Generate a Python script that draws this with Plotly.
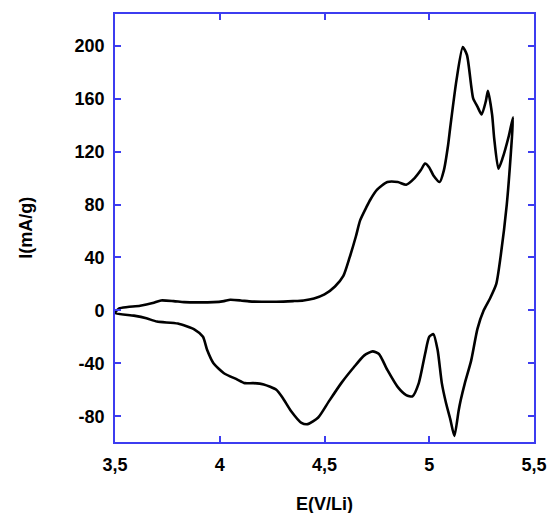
import plotly.graph_objects as go

# Anodic (forward) scan
x_fwd = [3.50, 3.52, 3.56, 3.62, 3.68, 3.72, 3.78, 3.83, 3.90, 3.97, 4.02, 4.05, 4.10, 4.14,
         4.20, 4.27, 4.35, 4.40, 4.45, 4.50, 4.55, 4.59, 4.62, 4.65, 4.67, 4.70, 4.72, 4.75,
         4.80, 4.85, 4.89, 4.93, 4.96, 4.98, 5.00, 5.02, 5.05, 5.07, 5.09, 5.10, 5.13, 5.16,
         5.18, 5.20, 5.21, 5.23, 5.25, 5.27, 5.28, 5.30, 5.31, 5.33, 5.35, 5.38, 5.40]
y_fwd = [-2, 1.5, 2.5, 3.5, 5.5, 7.5, 7, 6.2, 6, 6.2, 7, 8, 7.5, 6.8,
         6.5, 6.5, 7, 7.5, 9, 12, 18, 26, 40, 56, 68, 78, 84, 91,
         97, 97, 95, 100, 106, 111, 108, 102, 97, 106, 125, 138, 174, 199,
         193, 170, 160, 154, 148, 158, 166, 148, 130, 107, 115, 132, 146]

# Cathodic (reverse) scan
x_rev = [5.40, 5.39, 5.37, 5.34, 5.32, 5.29, 5.26, 5.23, 5.20, 5.17, 5.15, 5.14, 5.12, 5.10,
         5.08, 5.06, 5.04, 5.02, 5.00, 4.98, 4.95, 4.92, 4.89, 4.85, 4.80, 4.76, 4.73, 4.69,
         4.64, 4.58, 4.52, 4.47, 4.42, 4.39, 4.34, 4.30, 4.27, 4.21, 4.16, 4.12, 4.08, 4.02,
         3.97, 3.94, 3.92, 3.88, 3.80, 3.70, 3.65, 3.59, 3.50]
y_rev = [146, 120, 80, 40, 20, 9, 0, -14, -38, -55, -68, -76, -95, -82,
         -70, -55, -30, -18, -20, -33, -55, -65, -64, -58, -45, -33, -31, -34,
         -43, -55, -69, -81, -86, -85, -76, -66, -60, -56, -55, -55, -52, -47.5,
         -40, -30, -20, -14.5, -10, -8.5, -6, -4, -2]

x_ticks = [3.5, 4, 4.5, 5, 5.5]
x_ticklabels = ["3,5", "4", "4,5", "5", "5,5"]
y_ticks = [-80, -40, 0, 40, 80, 120, 160, 200]
y_ticklabels = ["-80", "-40", "0", "40", "80", "120", "160", "200"]

AXIS_BLUE = "#3c3cf0"
FONT = "Liberation Sans, Arial, sans-serif"

fig = go.Figure()
fig.add_trace(go.Scatter(
    x=x_fwd + x_rev[1:], y=y_fwd + y_rev[1:], mode="lines",
    line=dict(color="black", width=2.6, shape="spline", smoothing=0.6),
    showlegend=False, hoverinfo="skip"))

axis_common = dict(
    showgrid=False, zeroline=False, showline=True, linecolor=AXIS_BLUE, linewidth=1.6,
    mirror="ticks", ticks="inside", ticklen=6, tickwidth=1.6, tickcolor=AXIS_BLUE,
    tickfont=dict(family=FONT, size=18, color="black", weight="bold"),
)

fig.update_layout(
    width=559, height=513,
    margin=dict(l=115, r=13, t=13, b=71),
    paper_bgcolor="white", plot_bgcolor="white",
    xaxis=dict(range=[3.5, 5.5], tickvals=x_ticks, ticktext=x_ticklabels,
               ticklabelstandoff=6, **axis_common),
    yaxis=dict(range=[-99.5, 224], tickvals=y_ticks, ticktext=y_ticklabels,
               ticklabelstandoff=5, **axis_common),
    annotations=[
        dict(text="E(V/Li)", xref="paper", yref="paper", x=0.5, y=-0.145,
             xanchor="center", yanchor="middle", showarrow=False,
             font=dict(family=FONT, size=18, color="black", weight="bold")),
        dict(text="I(mA/g)", xref="paper", y=0.5, x=-0.213, yref="paper",
             xanchor="center", yanchor="middle", textangle=-90, showarrow=False,
             font=dict(family=FONT, size=18, color="black", weight="bold")),
    ],
)

fig.write_html("out.html", config={"displayModeBar": False},
               post_script="document.body.style.margin='0';")
